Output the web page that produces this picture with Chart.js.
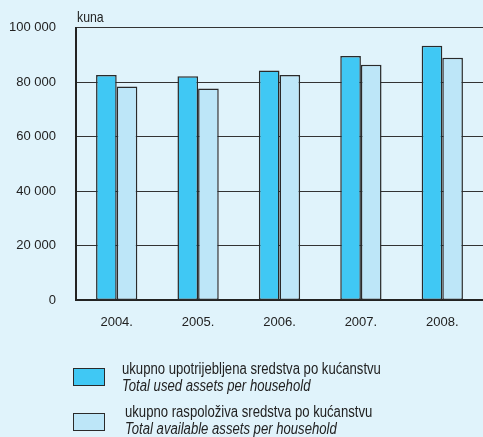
<!DOCTYPE html>
<html>
<head>
<meta charset="utf-8">
<script src="https://cdn.jsdelivr.net/npm/chart.js@4/dist/chart.umd.min.js"></script>
<style>
body{margin:0;background:#e0f3fb;font-family:"Liberation Sans",Arial,sans-serif;color:#222;}
#wrap{position:relative;width:483px;height:437px;overflow:hidden;}
canvas{position:absolute;left:0;top:0;}
.box{position:absolute;left:73px;width:30px;height:16px;border:1.5px solid #2a2a2a;}
.txt{position:absolute;font-size:16px;line-height:17px;white-space:nowrap;transform:scaleX(0.82);transform-origin:0 0;}
.txt i{display:block;}
#kuna{position:absolute;left:77px;top:8px;font-size:15px;transform:scaleX(0.82);transform-origin:0 0;}
</style>
</head>
<body>
<div id="wrap">
<canvas id="miGrafico" width="483" height="437"></canvas>
<div id="kuna">kuna</div>
<div class="box" style="top:368px;background:#40c8f4"></div>
<div class="txt" style="left:122px;top:360px">ukupno upotrijebljena sredstva po kućanstvu<i>Total used assets per household</i></div>
<div class="box" style="top:413px;background:#bde6f8"></div>
<div class="txt" style="left:125px;top:403px">ukupno raspoloživa sredstva po kućanstvu<i>Total available assets per household</i></div>
</div>
<script>
let godine = ['2004.', '2005.', '2006.', '2007.', '2008.'];
let upotrijebljena = [82700, 82200, 84300, 89700, 93400];
let raspoloziva = [78500, 77700, 82700, 86400, 89000];

let ctx = document.getElementById("miGrafico").getContext("2d");
let pismo = '"Liberation Sans", Arial, sans-serif';

let grafico = new Chart(ctx, {
type:'bar',
data:{
labels:godine,
datasets:[{
label:'ukupno upotrijebljena sredstva po kućanstvu',
data:upotrijebljena,
backgroundColor:'#40c8f4',
borderColor:'#2a2a2a',
borderWidth:1.5,
borderSkipped:false,
categoryPercentage:0.507,
barPercentage:1
},{
label:'ukupno raspoloživa sredstva po kućanstvu',
data:raspoloziva,
backgroundColor:'#bde6f8',
borderColor:'#2a2a2a',
borderWidth:1.5,
borderSkipped:false,
categoryPercentage:0.507,
barPercentage:1
}]
},
options:{
responsive:false,
animation:false,
layout:{padding:{top:22,bottom:101,left:0,right:0}},
plugins:{legend:{display:false},tooltip:{enabled:false}},
scales:{
x:{
grid:{display:false},
border:{display:true,color:'#222',width:2},
ticks:{color:'#222',padding:6,font:{family:pismo,size:13}}
},
y:{
min:0,max:100000,
afterFit:function(s){s.width=76;},
grid:{color:'#333',lineWidth:1,drawTicks:false},
border:{display:true,color:'#222',width:2},
ticks:{stepSize:20000,color:'#222',padding:20,font:{family:pismo,size:13},
callback:function(v){return v.toLocaleString('en-US').replace(/,/g,' ');}}
}
}
}
});
</script>
</body>
</html>
